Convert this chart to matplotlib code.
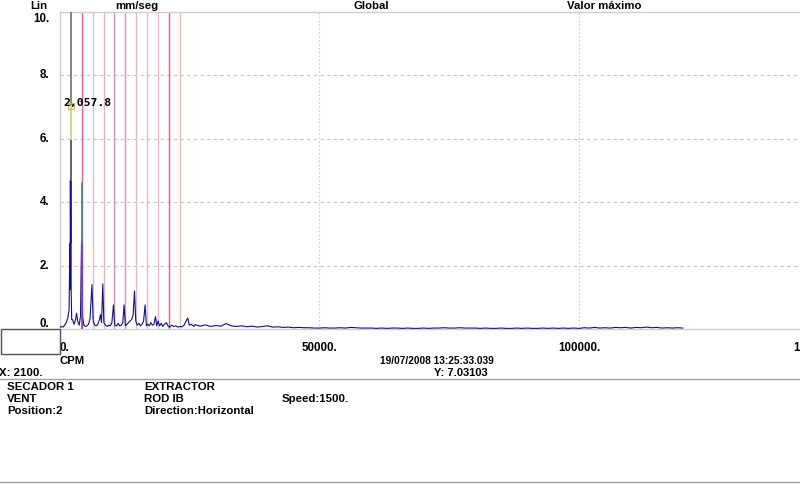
import matplotlib
matplotlib.use("Agg")
import matplotlib.pyplot as plt
import matplotlib.transforms as mtransforms
from matplotlib.patches import Rectangle
from matplotlib.lines import Line2D

# ---------------- data ----------------
freq_cpm = [0, 300, 600, 900, 1200, 1500, 1750, 1900, 1950, 2000, 2040, 2070, 2100, 2150, 2250,
            2400, 2700, 3000, 3200, 3400, 3700, 3950, 4150, 4350, 4600, 4900, 5200, 5500, 5800,
            6150, 6400, 6700, 7000, 7300, 7600, 7800, 8000, 8250, 8450, 8800, 9100, 9400, 9700,
            10000, 10300, 10550, 10900, 11200, 11500, 11800, 12100, 12350, 12600, 12900, 13200,
            13500, 13800, 14100, 14350, 14600, 14900, 15200, 15500, 15800, 16100, 16400, 16650,
            16900, 17200, 17500, 17800, 18100, 18400, 18650, 18900, 19200, 19500, 19800, 20100,
            20500, 20800, 21100, 21500, 21900, 22300, 22700, 23100, 23500, 23900, 24300, 24600,
            24900, 25300, 25800,
            26000, 27000, 28000, 29000, 30000, 31000, 32000, 33000, 34000, 35000, 36000, 37000,
            38000, 39000, 40000, 41000, 42000, 43000, 44000, 45000, 46000, 47000, 48000, 49000,
            50000, 51000, 52000, 53000, 54000, 55000, 56000, 57000, 58000, 59000, 60000, 61000,
            62000, 63000, 64000, 65000, 66000, 67000, 68000, 69000, 70000, 71000, 72000, 73000,
            74000, 75000, 76000, 77000, 78000, 79000, 80000, 81000, 82000, 83000, 84000, 85000,
            86000, 87000, 88000, 89000, 90000, 91000, 92000, 93000, 94000, 95000, 96000, 97000,
            98000, 99000, 100000, 101000, 102000, 103000, 104000, 105000, 106000, 107000, 108000,
            109000, 110000, 111000, 112000, 113000, 114000, 115000, 116000, 117000, 118000,
            119000, 120000]
amp_mm_s = [0.05, 0.08, 0.06, 0.12, 0.20, 0.35, 0.6, 2.7, 1.25, 4.7, 2.7, 4.7, 7.03, 1.25, 0.3,
            0.3, 0.15, 0.3, 0.5, 0.25, 0.12, 0.4, 2.8, 0.4, 0.12, 0.08, 0.1, 0.15, 0.35,
            1.4, 0.25, 0.12, 0.1, 0.15, 0.3, 0.45, 0.2, 1.42, 0.2, 0.12, 0.08, 0.12, 0.1,
            0.2, 0.76, 0.12, 0.1, 0.18, 0.1, 0.12, 0.2, 0.76, 0.1, 0.15, 0.2,
            0.25, 0.3, 0.45, 1.2, 0.25, 0.12, 0.18, 0.1, 0.15, 0.25, 0.76, 0.1,
            0.15, 0.1, 0.2, 0.12, 0.15, 0.39, 0.1, 0.25, 0.1, 0.18, 0.08, 0.15,
            0.2, 0.1, 0.05, 0.12, 0.08, 0.1, 0.06, 0.08, 0.07, 0.12, 0.25, 0.35,
            0.12, 0.15, 0.08,
            0.14, 0.09, 0.13, 0.08, 0.11, 0.09, 0.17, 0.10, 0.08, 0.10, 0.07, 0.09,
            0.06, 0.08, 0.10, 0.06, 0.07, 0.05, 0.06, 0.04, 0.05, 0.04, 0.04, 0.03,
            0.03, 0.04, 0.03, 0.03, 0.04, 0.03, 0.05, 0.04, 0.03, 0.03, 0.03, 0.02,
            0.03, 0.02, 0.03, 0.03, 0.02, 0.03, 0.02, 0.02, 0.03, 0.02, 0.03, 0.03,
            0.04, 0.03, 0.03, 0.04, 0.03, 0.03, 0.03, 0.02, 0.03, 0.02, 0.02, 0.03,
            0.02, 0.02, 0.03, 0.02, 0.03, 0.02, 0.02, 0.03, 0.02, 0.03, 0.02, 0.03,
            0.02, 0.03, 0.02, 0.04, 0.03, 0.05, 0.03, 0.04, 0.03, 0.05, 0.04,
            0.05, 0.03, 0.05, 0.04, 0.06, 0.04, 0.05, 0.03, 0.04, 0.03,
            0.04, 0.03]

cursor_cpm = 2100
cursor_amp = 7.03103
peak_label = "2,057.8"
cursor_bands = [4.7, 6.0]          # gray / yellow segments of the cursor overlay
harmonic_cpm = [4200, 6300, 8400, 10500, 12600, 14700, 16800, 18900, 21000, 23100]
harmonic_col = ['#e06878', '#e3bcc2', '#e0b8c0', '#e0909c', '#e0949e', '#e2bcc2',
                '#e2bcc2', '#e2bcc2', '#e85a6c', '#dcc0b8']
second_peak = 2.75
second_band_top = 4.6

y_ticks = [0, 2, 4, 6, 8, 10]
y_tick_labels = ["0.", "2.", "4.", "6.", "8.", "10."]
x_ticks = [0, 50000, 100000, 150000]
x_tick_labels = ["0.", "50000.", "100000.", "150000."]

W, H = 800, 484
fig = plt.figure(figsize=(8, 4.84), dpi=100)
FONT = "Liberation Sans"

ax_left, ax_right, ax_top, ax_bot = 60, 800, 12, 329
ax = fig.add_axes([ax_left / W, 1 - ax_bot / H, (ax_right - ax_left) / W, (ax_bot - ax_top) / H])
ax.set_xlim(0, 740 / 259.5 * 50000)
ax.set_ylim(0, 10)
ax.set_xticks([])
ax.set_yticks([])
for s in ['left', 'top', 'bottom']:
    ax.spines[s].set_color('#cfcfcf')
    ax.spines[s].set_linewidth(1)
ax.spines['right'].set_visible(False)

# grid
for yv in [2, 4, 6, 8]:
    ax.axhline(yv, color='#c4c4c4', lw=0.8, ls=(0, (3, 3)), zorder=0)
for xv in [50000, 100000]:
    ax.axvline(xv, color='#cccccc', lw=0.8, ls=(0, (1.5, 2)), zorder=0)

# harmonic markers
for hx, hc in zip(harmonic_cpm, harmonic_col):
    ax.axvline(hx, color=hc, lw=1.0, zorder=1)

# spectrum
ax.plot(freq_cpm, amp_mm_s, color='#10108a', lw=0.8, zorder=3)

# cursor overlays
ax.plot([cursor_cpm, cursor_cpm], [cursor_bands[0], 10], color='#707070', lw=1.2, zorder=4)
ax.plot([cursor_cpm, cursor_cpm], [cursor_bands[1], cursor_amp], color='#f2f07a', lw=1.2, zorder=5)
ax.plot([harmonic_cpm[0], harmonic_cpm[0]], [0, second_peak], color='#8a3ed0', lw=1.2, zorder=4)
ax.plot([harmonic_cpm[0], harmonic_cpm[0]], [second_peak, second_band_top], color='#2a9090', lw=1.2, zorder=4)
ax.plot([cursor_cpm], [cursor_amp], marker='s', ms=4, mfc='none', mec='#c8b860', mew=0.8, zorder=6)
ax.text(cursor_cpm - 1500, cursor_amp + 0.1, peak_label, fontsize=8.2, fontweight='bold',
        family="DejaVu Sans Mono", color='black', va='center', ha='left', zorder=7)

# y tick labels
ytr = mtransforms.blended_transform_factory(fig.transFigure, ax.transData)
for yv, lab in zip(y_ticks, y_tick_labels):
    off = 0
    if yv == 10:
        off = -7
    elif yv == 0:
        off = 5
    tr = ytr + mtransforms.ScaledTranslation(0, off / 100, fig.dpi_scale_trans)
    ax.text(49 / W, yv, lab, transform=tr, ha='right', va='center', fontsize=8.3,
            fontweight='bold', family=FONT, clip_on=False)

# x tick labels
xtr = mtransforms.blended_transform_factory(ax.transData, fig.transFigure)
yl = 1 - 348 / H
ax.text(x_ticks[0], yl, x_tick_labels[0], transform=xtr, ha='left', va='center', fontsize=8.3,
        fontweight='bold', family=FONT, clip_on=False)
for xv, lab in zip(x_ticks[1:3], x_tick_labels[1:3]):
    ax.text(xv, yl, lab, transform=xtr, ha='center', va='center', fontsize=8.3,
            fontweight='bold', family=FONT, clip_on=False)


def ftext(x, y, s, size=8.2, ha='left'):
    fig.text(x / W, 1 - y / H, s, ha=ha, va='center', fontsize=size, fontweight='bold',
             family=FONT, color='black')


ftext(793, 348, x_tick_labels[3], 8.3)
ftext(30, 6, "Lin")
ftext(115, 6, "mm/seg")
ftext(353, 6, "Global")
ftext(567, 6, "Valor máximo")
ftext(60, 361, "CPM")
ftext(380, 361, "19/07/2008 13:25:33.039", 7.3)
ftext(434, 373, "Y: 7.03103", 8.0)
ftext(-1, 373, "X: 2100.", 8.2)
ftext(7, 387, "SECADOR 1")
ftext(144, 387, "EXTRACTOR")
ftext(7, 399, "VENT")
ftext(144, 399, "ROD IB")
ftext(282, 399, "Speed:1500.")
ftext(7, 411, "Position:2")
ftext(144, 411, "Direction:Horizontal")

# box and separator lines
fig.patches.append(Rectangle((0.5 / W, 1 - 354 / H), 59.5 / W, 25 / H, transform=fig.transFigure,
                             fill=True, facecolor='white', edgecolor='#505050', lw=1))
fig.lines.append(Line2D([0, 1], [1 - 379 / H, 1 - 379 / H], transform=fig.transFigure,
                        color='#a0a0a0', lw=1))
fig.lines.append(Line2D([0, 1], [1 - 482 / H, 1 - 482 / H], transform=fig.transFigure,
                        color='#a0a0a0', lw=1))

fig.savefig("out.png", dpi=100)
